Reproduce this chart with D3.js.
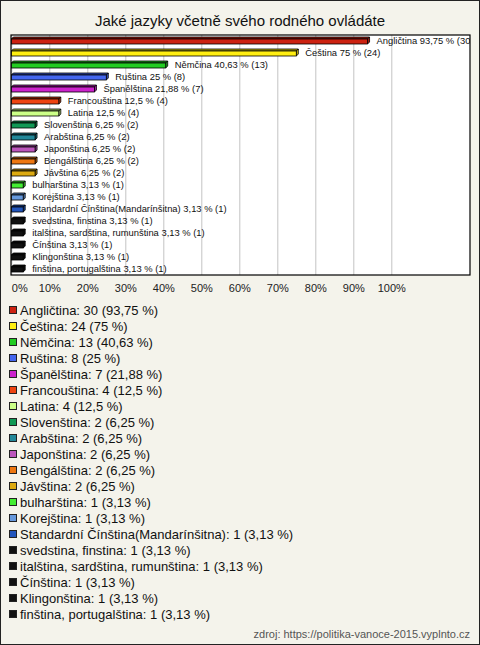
<!DOCTYPE html>
<html lang="cs">
<head>
    <meta charset="UTF-8">
    <title>Jaké jazyky</title>
    <style>
        body { margin: 0; background: #f4f3eb; }
        text { font-family: "Liberation Sans", Arial, sans-serif; }
    </style>
</head>
<body>
<script src="https://d3js.org/d3.v7.min.js"></script>

<div id="chart"></div>

<script type="text/javascript">

    // data
    var languages = ["Angličtina", "Čeština", "Němčina", "Ruština", "Španělština", "Francouština", "Latina",
        "Slovenština", "Arabština", "Japonština", "Bengálština", "Jávština", "bulharština", "Korejština",
        "Standardní Čínština(Mandarínšitna)", "svedstina, finstina", "italština, sardština, rumunština",
        "Čínština", "Klingonština", "finština, portugalština"];
    var counts = [30, 24, 13, 8, 7, 4, 4, 2, 2, 2, 2, 2, 1, 1, 1, 1, 1, 1, 1, 1];
    var percents = [93.75, 75, 40.63, 25, 21.88, 12.5, 12.5, 6.25, 6.25, 6.25, 6.25, 6.25,
        3.13, 3.13, 3.13, 3.13, 3.13, 3.13, 3.13, 3.13];
    var colors = ["#cc2211", "#ffee11", "#22cc22", "#4466ee", "#cc22cc", "#ee4411", "#ccff88",
        "#119955", "#228899", "#bb55bb", "#ee7711", "#ddaa11", "#44ee33", "#6699dd", "#2255bb",
        "#111111", "#111111", "#111111", "#111111", "#111111"];
    var tickValues = [0, 10, 20, 30, 40, 50, 60, 70, 80, 90, 100];

    var W = 480, H = 645;
    var plot = { left: 11, top: 35, right: 470, bottom: 275 };

    var svg = d3.select("#chart").append("svg")
        .attr("width", W)
        .attr("height", H);

    // pozadi + ramecek
    svg.append("rect")
        .attr("x", 0.5).attr("y", 0.5)
        .attr("width", W - 1).attr("height", H - 1)
        .style("fill", "#f4f3eb")
        .style("stroke", "#222");

    // titulek
    svg.append("text")
        .attr("x", W / 2)
        .attr("y", 26)
        .attr("text-anchor", "middle")
        .style("font-size", "15px")
        .style("fill", "#111")
        .text("Jaké jazyky včetně svého rodného ovládáte");

    var x = d3.scaleLinear().domain([0, 100]).range([plot.left + 0.3, plot.left + 380.3]);
    var y = d3.scaleBand().domain(languages).range([plot.top, plot.bottom]);

    // bila plocha grafu
    svg.append("rect")
        .attr("x", plot.left).attr("y", plot.top)
        .attr("width", plot.right - plot.left).attr("height", plot.bottom - plot.top)
        .style("fill", "#fff");

    // mrizka
    svg.append("g")
        .attr("transform", "translate(0," + plot.bottom + ")")
        .call(d3.axisBottom(x).tickValues(tickValues).tickSize(-(plot.bottom - plot.top)).tickFormat(""))
        .call(function(g) { g.select(".domain").remove(); })
        .selectAll("line")
        .style("stroke", "#c4c4c4");

    svg.append("clipPath").attr("id", "plotclip")
        .append("rect")
        .attr("x", plot.left).attr("y", plot.top)
        .attr("width", plot.right - plot.left).attr("height", plot.bottom - plot.top);

    var depth = 2;
    var bars = svg.append("g").attr("clip-path", "url(#plotclip)")
        .selectAll("g")
        .data(languages)
        .enter()
        .append("g");

    // horni plocha
    bars.append("path")
        .attr("d", function(d, i) {
            var c = y(d) + y.bandwidth() / 2, x0 = x(0), x1 = x(percents[i]);
            return "M" + x0 + "," + (c - 2) + "L" + (x0 + depth) + "," + (c - 2 - depth) +
                "L" + (x1 + depth) + "," + (c - 2 - depth) + "L" + x1 + "," + (c - 2) + "Z";
        })
        .style("fill", function(d, i) { return d3.color(colors[i]).darker(0.9); })
        .style("stroke", "#000")
        .style("stroke-width", 0.8);

    // bocni plocha
    bars.append("path")
        .attr("d", function(d, i) {
            var c = y(d) + y.bandwidth() / 2, x1 = x(percents[i]);
            return "M" + x1 + "," + (c - 2) + "L" + (x1 + depth) + "," + (c - 2 - depth) +
                "L" + (x1 + depth) + "," + (c + 3 - depth) + "L" + x1 + "," + (c + 3) + "Z";
        })
        .style("fill", function(d, i) { return d3.color(colors[i]).darker(0.6); })
        .style("stroke", "#000")
        .style("stroke-width", 0.8);

    // predni plocha
    bars.append("rect")
        .attr("x", x(0))
        .attr("y", function(d) { return y(d) + y.bandwidth() / 2 - 2; })
        .attr("width", function(d, i) { return x(percents[i]) - x(0); })
        .attr("height", 5)
        .style("fill", function(d, i) { return colors[i]; })
        .style("stroke", "#000")
        .style("stroke-width", 0.8);

    function fmt(v) { return String(v).replace(".", ","); }

    // popisky sloupcu
    bars.append("text")
        .attr("x", function(d, i) { return x(percents[i]) + 9; })
        .attr("y", function(d) { return y(d) + y.bandwidth() / 2; })
        .attr("dy", "0.35em")
        .style("font-size", "9.4px")
        .style("fill", "#111")
        .text(function(d, i) { return d + " " + fmt(percents[i]) + " % (" + counts[i] + ")"; });

    // ramecek grafu
    svg.append("rect")
        .attr("x", plot.left).attr("y", plot.top)
        .attr("width", plot.right - plot.left).attr("height", plot.bottom - plot.top)
        .style("fill", "none")
        .style("stroke", "#000")
        .style("stroke-width", 1.2);

    // osa x
    var axis = svg.append("g")
        .attr("transform", "translate(0," + plot.bottom + ")")
        .call(d3.axisBottom(x).tickValues(tickValues).tickSize(0).tickPadding(9)
            .tickFormat(function(d) { return d + "%"; }));
    axis.select(".domain").remove();
    axis.selectAll("text")
        .style("font-size", "11px")
        .style("font-family", "'Liberation Sans', Arial, sans-serif")
        .style("fill", "#222");
    axis.selectAll(".tick").filter(function(d) { return d === 0; })
        .select("text").attr("text-anchor", "start");

    // legenda
    var legend = svg.append("g")
        .selectAll("g")
        .data(languages)
        .enter()
        .append("g")
        .attr("transform", function(d, i) { return "translate(0," + (310 + i * 16) + ")"; });

    legend.append("rect")
        .attr("x", 9.5).attr("y", -3.5)
        .attr("width", 7).attr("height", 7)
        .style("fill", function(d, i) { return colors[i]; })
        .style("stroke", "#222");

    legend.append("text")
        .attr("x", 20)
        .attr("dy", "0.35em")
        .style("font-size", "13px")
        .style("fill", "#111")
        .text(function(d, i) { return d + ": " + counts[i] + " (" + fmt(percents[i]) + " %)"; });

    // zdroj
    svg.append("text")
        .attr("x", 470)
        .attr("y", 638)
        .attr("text-anchor", "end")
        .style("font-size", "11px")
        .style("fill", "#555")
        .text("zdroj: https://politika-vanoce-2015.vyplnto.cz");

</script>
</body>
</html>
